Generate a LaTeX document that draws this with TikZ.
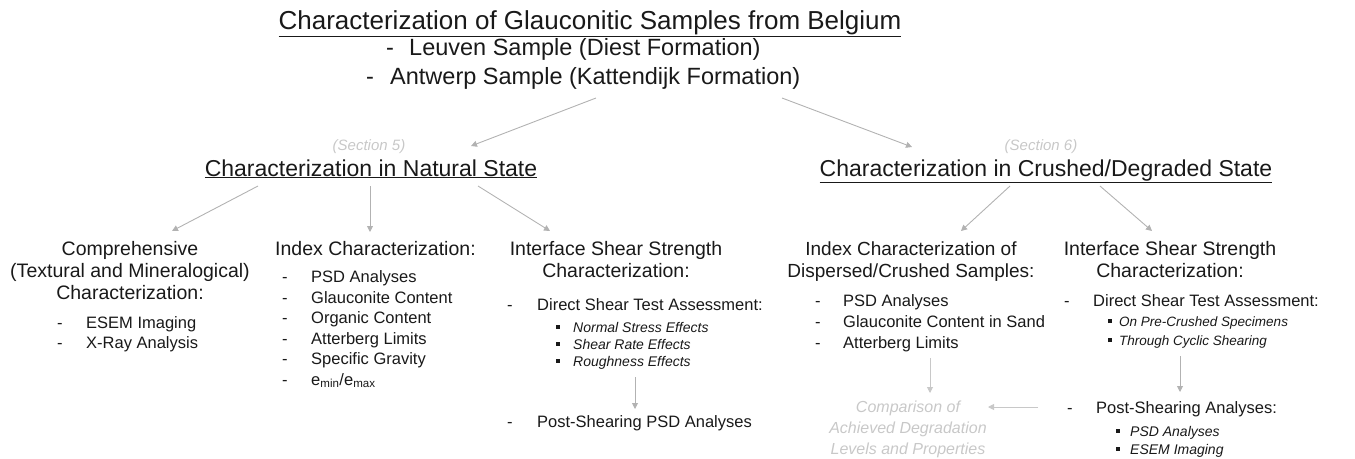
\documentclass[tikz,border=0pt]{standalone}
\usepackage{fontspec}
\setmainfont{Liberation Sans}
\usetikzlibrary{arrows.meta}

\definecolor{txt}{RGB}{25,25,25}
\definecolor{arrgray}{RGB}{178,178,178}
\definecolor{ghost}{RGB}{200,200,200}

\newcommand{\dashline}[2][29pt]{\makebox[#1][l]{-}#2}
\newcommand{\boxline}[2][17pt]{\makebox[#1][l]{\rule[0.22em]{0.3em}{0.3em}}\textit{#2}}

\tikzset{
    every node/.style={inner sep=0pt, text=txt},
    toptitle/.style={font=\fontsize{26}{30}\selectfont, anchor=base},
    sample/.style={font=\fontsize{23.5}{28}\selectfont, anchor=base west},
    heading/.style={font=\fontsize{23}{27}\selectfont, anchor=base},
    note/.style={font=\fontsize{15}{18}\selectfont\itshape, text=ghost, anchor=base},
    colhead/.style={font=\fontsize{19.5}{23}\selectfont, anchor=base},
    listitem/.style={font=\fontsize{16.5}{19}\selectfont, anchor=base west},
    subitem/.style={font=\fontsize{14}{16}\selectfont, anchor=base west},
    arr/.style={arrgray, line width=0.9pt, -{Triangle[width=6pt,length=6pt]}},
    ghostarr/.style={arr, ghost}
}

\begin{document}
\begin{tikzpicture}[x=1pt, y=-1pt]
    \useasboundingbox (0,0) rectangle (1355,458);

    % top
    \node[toptitle] (title) at (590,29) {\underline{Characterization of Glauconitic Samples from Belgium}};
    \node[sample] (leuven) at (386,55) {\dashline[23pt]{Leuven Sample (Diest Formation)}};
    \node[sample] (antwerp) at (366,84) {\dashline[24pt]{Antwerp Sample (Kattendijk Formation)}};

    % second level
    \node[note] (sec5) at (369,150) {(Section 5)};
    \node[heading] (natural) at (371,176) {\underline{Characterization in Natural State}};
    \node[note] (sec6) at (1041,150) {(Section 6)};
    \node[heading] (crushed) at (1046,176) {\underline{Characterization in Crushed/Degraded State}};

    \coordinate (s1) at (596,98);   \coordinate (e1) at (471,146);
    \coordinate (s2) at (782,98);   \coordinate (e2) at (912,147);
    \draw[arr] (s1) -- (e1);
    \draw[arr] (s2) -- (e2);

    % natural state columns
    \node[colhead] (comp1) at (130,255) {Comprehensive};
    \node[colhead] (comp2) at (130,277) {(Textural and Mineralogical)};
    \node[colhead] (comp3) at (130,299) {Characterization:};
    \foreach \t [count=\i] in {ESEM Imaging, X-Ray Analysis}
        \node[listitem] (compitem\i) at (57,{308+20*\i}) {\dashline{\t}};

    \node[colhead, anchor=base west] (index) at (275,255) {Index Characterization:};
    \foreach \t [count=\i] in {PSD Analyses, Glauconite Content, Organic Content,
        Atterberg Limits, Specific Gravity, {e\textsubscript{min}/e\textsubscript{max}}}
        \node[listitem] (indexitem\i) at (282,{262+20.5*\i}) {\dashline{\t}};

    \node[colhead] (shear1) at (616,255) {Interface Shear Strength};
    \node[colhead] (shear2) at (616,277) {Characterization:};
    \node[listitem] (direct) at (507,310) {\dashline[30pt]{Direct Shear Test Assessment:}};
    \foreach \t [count=\i] in {Normal Stress Effects, Shear Rate Effects, Roughness Effects}
        \node[subitem] (effect\i) at (556,{315+17*\i}) {\boxline{\t}};
    \node[listitem] (post) at (507,427) {\dashline[30pt]{Post-Shearing PSD Analyses}};

    \coordinate (n1) at (258,186);  \coordinate (m1) at (172,231);
    \coordinate (n2) at (370,186);  \coordinate (m2) at (370,232);
    \coordinate (n3) at (478,186);  \coordinate (m3) at (550,231);
    \coordinate (p1) at (635,377);  \coordinate (p2) at (635,409);
    \draw[arr] (n1) -- (m1);
    \draw[arr] (n2) -- (m2);
    \draw[arr] (n3) -- (m3);
    \draw[arr] (p1) -- (p2);

    % crushed state columns
    \node[colhead, font=\fontsize{19}{23}\selectfont] (disp1) at (911,255) {Index Characterization of};
    \node[colhead, font=\fontsize{19}{23}\selectfont] (disp2) at (911,277) {Dispersed/Crushed Samples:};
    \foreach \t [count=\i] in {PSD Analyses, Glauconite Content in Sand, Atterberg Limits}
        \node[listitem] (dispitem\i) at (815,{285+21*\i}) {\dashline[28pt]{\t}};

    \node[note, font=\fontsize{16}{19}\selectfont\itshape] (cmp1) at (908,412) {Comparison of};
    \node[note, font=\fontsize{16}{19}\selectfont\itshape] (cmp2) at (908,433) {Achieved Degradation};
    \node[note, font=\fontsize{16}{19}\selectfont\itshape] (cmp3) at (908,454) {Levels and Properties};

    \node[colhead] (cshear1) at (1170,255) {Interface Shear Strength};
    \node[colhead] (cshear2) at (1170,277) {Characterization:};
    \node[listitem] (cdirect) at (1064,306) {\dashline{Direct Shear Test Assessment:}};
    \foreach \t [count=\i] in {On Pre-Crushed Specimens, Through Cyclic Shearing}
        \node[subitem, font=\fontsize{13.5}{16}\selectfont] (cyc\i) at (1108,{307+19*\i}) {\boxline[11pt]{\t}};
    \node[listitem] (cpost) at (1067,413) {\dashline{Post-Shearing Analyses:}};
    \foreach \t [count=\i] in {PSD Analyses, ESEM Imaging}
        \node[subitem] (cpostitem\i) at (1116,{418+18*\i}) {\boxline[14pt]{\t}};

    \coordinate (c1) at (1010,186); \coordinate (d1) at (961,231);
    \coordinate (c2) at (1100,186); \coordinate (d2) at (1152,231);
    \coordinate (q1) at (930,358);  \coordinate (q2) at (930,393);
    \coordinate (r1) at (1180,356); \coordinate (r2) at (1180,392);
    \coordinate (t1) at (1038,407); \coordinate (t2) at (988,407);
    \draw[arr] (c1) -- (d1);
    \draw[arr] (c2) -- (d2);
    \draw[ghostarr] (q1) -- (q2);
    \draw[arr] (r1) -- (r2);
    \draw[ghostarr] (t1) -- (t2);
\end{tikzpicture}
\end{document}
